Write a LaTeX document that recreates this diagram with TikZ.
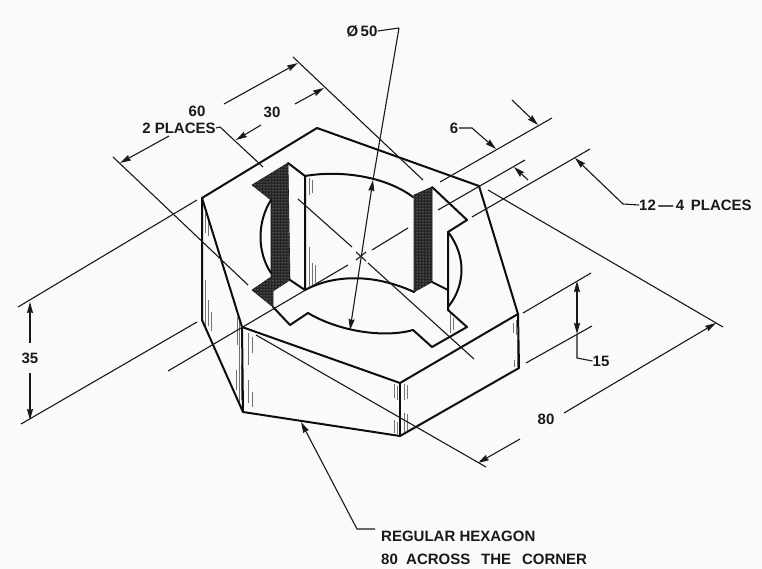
\documentclass[tikz,border=0pt]{standalone}
\usepackage{fontspec}
\setmainfont{Liberation Sans}
\usetikzlibrary{arrows.meta,patterns}
\definecolor{paper}{HTML}{FAFAFA}
\tikzset{
  edge/.style={line width=2pt,line join=round,line cap=round,black!95},
  thinl/.style={line width=1.1pt,black!90},
  dim/.style={thinl,-{Stealth[length=11pt,width=6pt,inset=1pt]}},
  dimb/.style={thinl,{Stealth[length=11pt,width=6pt,inset=1pt]}-{Stealth[length=11pt,width=6pt,inset=1pt]}},
  hatch/.style={line width=0.9pt,black!55},
  lbl/.style={font=\fontsize{15}{17}\selectfont\bfseries,text=black!90,inner sep=0pt},
  darkface/.style={fill=black!85,draw=black!90,line width=0.6pt}
}
\begin{document}
\begin{tikzpicture}[x=1pt,y=-1pt]
\useasboundingbox (0,0) rectangle (762,569);
\fill[paper] (0,0) rectangle (762,569);
% hexagon corners
\coordinate (A) at (317,128); \coordinate (B) at (479,186); \coordinate (C) at (518,314);
\coordinate (D) at (400,383); \coordinate (E) at (242,327); \coordinate (F) at (202,198);
\coordinate (C2) at (519,368); \coordinate (D2) at (400,436); \coordinate (E2) at (243,412); \coordinate (F2) at (202,320);
% dark faces
\fill[darkface] (252,290)--(271,277)--(271,200)--(252,185)--(288,163)--(290,280)--(273,291)--(273,307)--cycle;
\fill[darkface] (414,195)--(432,187)--(432,282)--(414,292)--cycle;
\fill[pattern=dots,pattern color=white!80!black] (252,290)--(271,277)--(271,200)--(252,185)--(288,163)--(290,280)--(273,291)--(273,307)--cycle;
\fill[pattern=dots,pattern color=white!80!black] (414,195)--(432,187)--(432,282)--(414,292)--cycle;
% hatching
\foreach \x/\a/\b in {309/178/195,312/180/193,309/247/287,312/263/286,315/265/283,
  205/213/233,208/218/236,205/280/330,208/300/326,211/312/331,
  237/317/345,239/320/403,241/365/400,236/370/390,252/337/353,248/333/365,248/380/403,252/392/407,
  394/384/398,397/386/400,404/384/400,407/385/399,394/420/433,397/422/434,404/413/432,407/414/431,
  513/323/333,516/320/335,514/360/367,517/340/367,450/313/333,453/318/330}
  \draw[hatch] (\x,\a)--(\x,\b);
% outer body
\draw[edge] (F)--(A)--(B)--(C)--(D)--(E)--cycle;
\draw[edge] (F)--(F2)--(E2)--(D2)--(C2)--(C);
\draw[edge] (E)--(E2); \draw[edge] (D)--(D2);
% cavity
\draw[edge] (288,163)--(305,176)--(305,290)--(290,280);
\draw[edge] (271,200) .. controls (257,222) and (257,252) .. (271,273);
\draw[edge] (305,176) .. controls (340,170) and (385,176) .. (413,197);
\draw[edge] (305,290) .. controls (335,274) and (375,274) .. (414,292);
\draw[edge] (432,187)--(467,220)--(448,232)--(448,310)--(467,327)--(432,347)--(413,330);
\draw[edge] (432,282)--(448,290);
\draw[edge] (448,232) .. controls (466,255) and (466,285) .. (448,307);
\draw[edge] (413,330) .. controls (385,338) and (340,332) .. (308,313);
\draw[edge] (308,313)--(290,325)--(273,307);
% centre lines
\draw[thinl] (298,199)--(352,247);
\draw[thinl] (368,263)--(474,359);
\draw[thinl] (168,371)--(348,265);
\draw[thinl] (372,250)--(408,228);
\draw[thinl] (356,252)--(366,261) (356,260)--(366,252);
% extension lines
\draw[thinl] (293,57)--(423,180);
\draw[thinl] (220,127)--(263,167);
\draw[thinl] (113,157)--(248,285);
\draw[thinl] (440,182)--(552,118);
\draw[thinl] (438,210)--(525,160);
\draw[thinl] (472,217)--(590,149);
\draw[thinl] (488,190)--(723,327);
\draw[thinl] (256,335)--(486,467);
\draw[thinl] (523,313)--(591,273);
\draw[thinl] (526,363)--(592,326);
\draw[thinl] (18,307)--(197,200);
\draw[thinl] (21,424)--(197,322);
% labels
\node[lbl] (n60) at (197,111) {60};
\node[lbl] (n2p) at (179,128) {2 PLACES};
\node[lbl] (n30) at (272,112) {30};
\node[lbl] (n50) at (362,31) {Ø\,50};
\node[lbl] (n6) at (454,128) {6};
\node[lbl,anchor=west] (n12) at (639,205) {12\,—\,4\, PLACES};
\node[lbl] (n35) at (30,358) {35};
\node[lbl] (n15) at (601,361) {15};
\node[lbl] (n80) at (546,419) {80};
\node[lbl,anchor=west] (nr) at (381,536) {REGULAR HEXAGON};
\node[lbl,anchor=west] (na) at (381,559) {80 \;ACROSS \;\,THE \;\,CORNER};
% dimension arrows
\coordinate (a60r) at (224,104); \coordinate (a60l) at (169,136);
\draw[dim] (a60r)--(298,63);
\draw[dim] (a60l)--(120,163);
\draw[dim] (295,104)--(324,88);
\draw[dim] (261,125)--(236,140);
\draw[dim] (564,413)--(716,323);
\draw[dim] (520,439)--(478,463);
\draw[dim] (30,343)--(30,302);
\draw[dim] (30,373)--(30,420);
\draw[dimb] (577,281)--(577,334);
\draw[thinl] (577,334)--(577,358)--(n15.west);
\draw[dim] (459,128)--(472,128)--(496,149);
\draw[dim] (512,100)--(538,125);
\draw[dim] (528,180)--(514,167);
\draw[dim] (n12.west)--(623,204)--(575,158);
\draw[thinl] (n50.east)--(399,28);
\draw[dimb] (373,180)--(350,330);
\draw[thinl] (399,28)--(373,180);
\draw[thinl] (n2p.east)--(220,127);
\draw[dim] (375,529)--(357,529)--(301,422);
\end{tikzpicture}
\end{document}
